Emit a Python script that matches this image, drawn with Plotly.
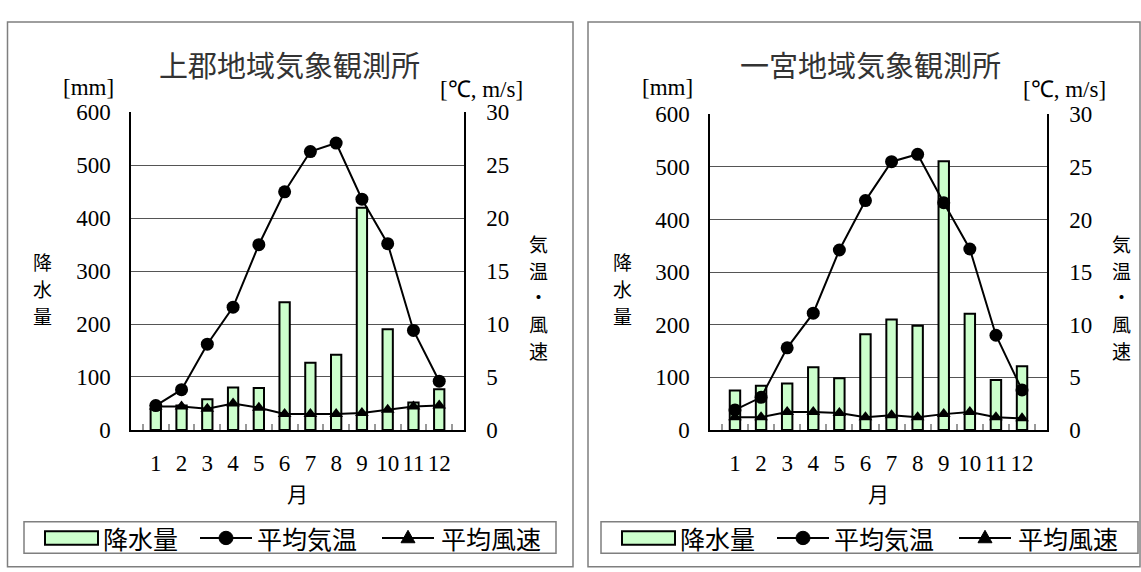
import plotly.graph_objects as go

W, H = 1141, 572

months = ["1", "2", "3", "4", "5", "6", "7", "8", "9", "10", "11", "12"]

# 上郡地域気象観測所
kamigori_rain = [40, 46, 58, 80, 79, 241, 127, 142, 420, 190, 52, 77]
kamigori_temp = [2.3, 3.8, 8.1, 11.6, 17.5, 22.5, 26.3, 27.1, 21.8, 17.6, 9.4, 4.6]
kamigori_wind = [2.2, 2.2, 2.0, 2.5, 2.1, 1.5, 1.5, 1.5, 1.6, 1.9, 2.2, 2.3]

# 一宮地域気象観測所
ichinomiya_rain = [75, 84, 88, 119, 98, 182, 210, 198, 511, 221, 95, 121]
ichinomiya_temp = [1.9, 3.1, 7.8, 11.1, 17.1, 21.8, 25.5, 26.2, 21.6, 17.2, 9.0, 3.8]
ichinomiya_wind = [1.2, 1.2, 1.7, 1.7, 1.6, 1.2, 1.4, 1.2, 1.5, 1.7, 1.2, 1.1]

rain_ticks = [0, 100, 200, 300, 400, 500, 600]
temp_ticks = [0, 5, 10, 15, 20, 25, 30]

SERIF = "Liberation Serif"
JP = "Noto Sans CJK JP"
GREEN = "#CCFFCC"


def px(x):
    return x / W


def py(y):
    return 1 - y / H


fig = go.Figure()

panels = [
    dict(name="上郡地域気象観測所", rain=kamigori_rain, temp=kamigori_temp, wind=kamigori_wind,
         xa="x", ya="y", ya2="y2", left=131, right=464, top=105, bottom=437,
         frame=(7.5, 573), legend=(24, 556)),
    dict(name="一宮地域気象観測所", rain=ichinomiya_rain, temp=ichinomiya_temp, wind=ichinomiya_wind,
         xa="x2", ya="y3", ya2="y4", left=710, right=1047, top=107, bottom=437,
         frame=(588, 1140), legend=(601, 1138)),
]

shapes = []
annotations = []


def stacked(chars, x, ys, size):
    # vertical axis titles, one glyph per line
    for ch, yy in zip(chars, ys):
        annotations.append(dict(text=ch, x=px(x), y=py(yy), borderpad=0,
                                font=dict(family=JP, size=size)))


for i, p in enumerate(panels):
    fig.add_trace(go.Bar(x=months, y=p["rain"], xaxis=p["xa"], yaxis=p["ya"],
                         width=0.4, marker=dict(color=GREEN, line=dict(color="black", width=2)),
                         showlegend=False))
    fig.add_trace(go.Scatter(x=months, y=p["temp"], xaxis=p["xa"], yaxis=p["ya2"],
                             mode="lines+markers", line=dict(color="black", width=2),
                             marker=dict(symbol="circle", size=13, color="black"),
                             cliponaxis=False, showlegend=False))
    fig.add_trace(go.Scatter(x=months, y=p["wind"], xaxis=p["xa"], yaxis=p["ya2"],
                             mode="lines+markers", line=dict(color="black", width=2),
                             marker=dict(symbol="triangle-up", size=12, color="black"),
                             cliponaxis=False, showlegend=False))

    n = "" if i == 0 else "2"
    ny1 = "" if i == 0 else "3"
    ny2 = "2" if i == 0 else "4"
    xdom = [px(p["left"]), px(p["right"])]
    ydom = [py(p["bottom"]), py(p["top"])]
    fig.update_layout(**{
        f"xaxis{n}": dict(domain=xdom, anchor=f"y{ny1}", type="category",
                          tickmode="array", tickvals=months, ticktext=months,
                          showline=True, linecolor="black", linewidth=1.5,
                          ticks="inside", tickson="boundaries", ticklen=6, tickcolor="#999999",
                          tickwidth=1.5, ticklabelstandoff=12, tickangle=0,
                          tickfont=dict(family=SERIF, size=23, color="black"),
                          showgrid=False, zeroline=False),
        f"yaxis{ny1}": dict(domain=ydom, anchor=f"x{n}", range=[0, 600], tickvals=rain_ticks,
                            showline=True, linecolor="black", linewidth=1.5, ticks="",
                            ticklabelstandoff=14, showgrid=True, gridcolor="#555555", gridwidth=1,
                            zeroline=False, tickfont=dict(family=SERIF, size=23, color="black")),
        f"yaxis{ny2}": dict(domain=ydom, anchor=f"x{n}", overlaying=f"y{ny1}", side="right",
                            range=[0, 30], tickvals=temp_ticks, showline=True, linecolor="black",
                            linewidth=1.5, ticks="", ticklabelstandoff=16, showgrid=False,
                            zeroline=False, tickfont=dict(family=SERIF, size=23, color="black")),
    })

    # panel frame
    f0, f1 = p["frame"]
    shapes.append(dict(type="rect", xref="paper", yref="paper", x0=px(f0), x1=px(f1),
                       y0=py(580), y1=py(10.5), line=dict(color="#7f7f7f", width=1.5)))

    cx = (p["left"] + p["right"]) / 2
    annotations += [
        dict(text=p["name"], x=px(cx - 8), y=py(54), font=dict(family=JP, size=29, color="#333")),
        dict(text="[mm]", x=px(p["left"] - 43), y=py(79), font=dict(family=SERIF, size=23)),
        dict(text="[℃, m/s]", x=px(p["right"] + 17), y=py(81), font=dict(family=SERIF, size=23)),
        dict(text="月", x=px(cx), y=py(503), font=dict(family=JP, size=21)),
    ]
    stacked("降水量", p["left"] - 88, [261, 289, 317], 19)
    stacked("気温・風速", p["right"] + 74, [242, 270, 298, 326, 354], 19)

    # legend box
    l0, l1 = p["legend"]
    ly = 550
    shapes.append(dict(type="rect", xref="paper", yref="paper", x0=px(l0), x1=px(l1),
                       y0=py(566), y1=py(533), line=dict(color="#7f7f7f", width=1.5)))
    shapes.append(dict(type="rect", xref="paper", yref="paper", x0=px(l0 + 21), x1=px(l0 + 74),
                       y0=py(557), y1=py(543), fillcolor=GREEN, line=dict(color="black", width=2)))
    annotations.append(dict(text="降水量", x=px(l0 + 77), y=py(ly), xanchor="left",
                            font=dict(family=JP, size=25)))
    # temperature sample
    a0 = l0 + 176
    shapes.append(dict(type="line", xref="paper", yref="paper", x0=px(a0), x1=px(a0 + 52),
                       y0=py(ly), y1=py(ly), line=dict(color="black", width=2)))
    shapes.append(dict(type="circle", xref="paper", yref="paper", x0=px(a0 + 19), x1=px(a0 + 33),
                       y0=py(ly + 7), y1=py(ly - 7), fillcolor="black", line=dict(color="black", width=1)))
    annotations.append(dict(text="平均気温", x=px(a0 + 55), y=py(ly), xanchor="left",
                            font=dict(family=JP, size=25)))
    # wind sample
    b0 = l0 + 358
    shapes.append(dict(type="line", xref="paper", yref="paper", x0=px(b0), x1=px(b0 + 52),
                       y0=py(ly), y1=py(ly), line=dict(color="black", width=2)))
    tx = b0 + 26
    shapes.append(dict(type="path", xref="paper", yref="paper",
                       path=f"M {px(tx - 7)} {py(ly + 5)} L {px(tx + 7)} {py(ly + 5)} L {px(tx)} {py(ly - 8)} Z",
                       fillcolor="black", line=dict(color="black", width=1)))
    annotations.append(dict(text="平均風速", x=px(b0 + 57), y=py(ly), xanchor="left",
                            font=dict(family=JP, size=25)))

for a in annotations:
    a.setdefault("xanchor", "center")
    a["xref"] = "paper"
    a["yref"] = "paper"
    a["showarrow"] = False
    a["yanchor"] = "middle"
    a["font"].setdefault("color", "black")

fig.update_layout(width=W, height=H, margin=dict(l=0, r=0, t=0, b=0),
                  paper_bgcolor="white", plot_bgcolor="white", barmode="overlay",
                  shapes=shapes, annotations=annotations, showlegend=False)

fig.write_html("out.html")
